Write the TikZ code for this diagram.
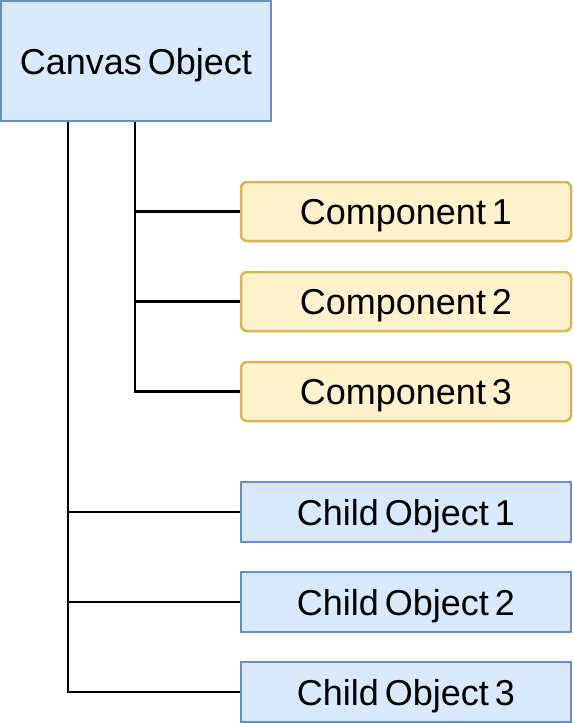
\documentclass[tikz,border=0pt]{standalone}
\usepackage{fontspec}
\setmainfont{Liberation Sans}[WordSpace=0.6]
\definecolor{fillblue}{HTML}{DAE8FC}
\definecolor{strokeblue}{HTML}{6C8EBF}
\definecolor{fillyellow}{HTML}{FFF2CC}
\definecolor{strokeyellow}{HTML}{D6B656}
\tikzset{
  bluebox/.style={draw=strokeblue, fill=fillblue, line width=2.5pt, inner sep=0pt,
    text depth=0pt, minimum width=330pt, minimum height=60pt, font=\fontsize{36}{42}\selectfont},
  yellowbox/.style={draw=strokeyellow, fill=fillyellow, line width=2.5pt, inner sep=0pt,
    text depth=0pt, rounded corners=6pt, minimum width=330pt, minimum height=59pt, font=\fontsize{36}{42}\selectfont},
  rootbox/.style={bluebox, minimum width=270pt, minimum height=120pt},
  link/.style={draw=black, line width=2.5pt}
}
\begin{document}
\begin{tikzpicture}[x=1pt,y=-1pt]
\useasboundingbox (0,0) rectangle (573,723);
\node[rootbox] (root) at (136,61) {Canvas Object};
\node[yellowbox] (c1) at (406,211.5) {Component 1};
\node[yellowbox] (c2) at (406,301.5) {Component 2};
\node[yellowbox] (c3) at (406,391.5) {Component 3};
\node[bluebox] (o1) at (406,512) {Child Object 1};
\node[bluebox] (o2) at (406,602) {Child Object 2};
\node[bluebox] (o3) at (406,692) {Child Object 3};
\draw[link] ([xshift=68pt]root.south west) |- (o1.west);
\draw[link] ([xshift=68pt]root.south west) |- (o2.west);
\draw[link] ([xshift=68pt]root.south west) |- (o3.west);
\draw[link] ([xshift=135pt]root.south west) |- (c1.west);
\draw[link] ([xshift=135pt]root.south west) |- (c2.west);
\draw[link] ([xshift=135pt]root.south west) |- (c3.west);
\end{tikzpicture}
\end{document}
